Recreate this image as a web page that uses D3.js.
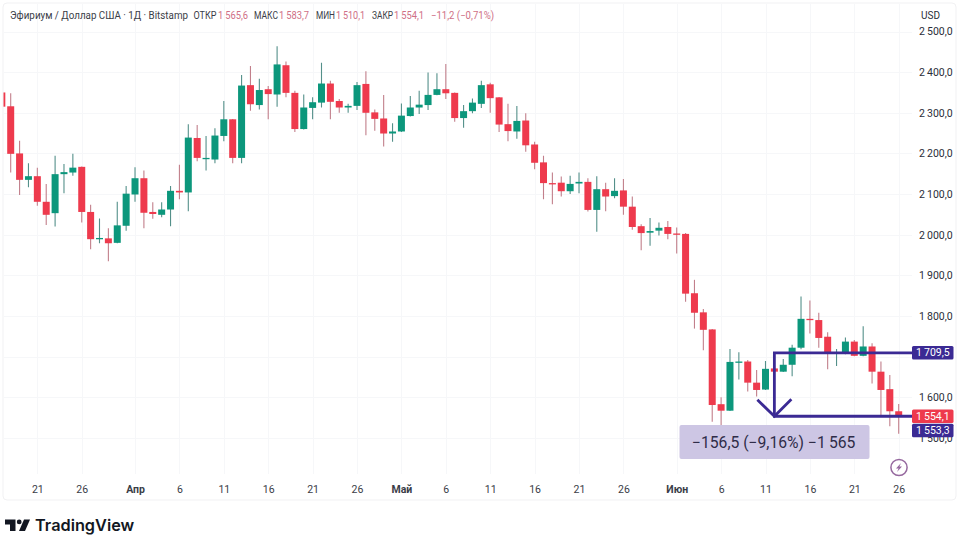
<!DOCTYPE html>
<html><head><meta charset="utf-8">
<script src="https://cdn.jsdelivr.net/npm/d3@7/dist/d3.min.js"></script>
<style>html,body{margin:0;padding:0;background:#fff}svg{display:block;font-family:Roboto,"Noto Sans",sans-serif}</style>
</head><body><svg id="c" width="960" height="540"></svg>
<script>
const firstDate = "2022-03-17";
const lastDate = "2022-06-26";
const open_ = [2350,2316,2200,2135,2144,2081,2053,2149,2153,2167,2056,1989,1991,1980,2022,2099,2139,2056,2049,2062,2108,2104,2238,2186,2185,2243,2284,2189,2368,2319,2358,2345,2417,2349,2260,2312,2325,2372,2329,2313,2317,2371,2301,2286,2249,2254,2292,2313,2319,2344,2358,2349,2287,2304,2322,2370,2338,2272,2254,2281,2222,2178,2127,2128,2107,2126,2130,2061,2112,2095,2109,2069,2021,2005,2010,2019,2003,2002,1856,1809,1767,1583,1567,1687,1688,1636,1619,1671,1663,1680,1722,1793,1790,1749,1707,1708,1737,1702,1725,1663,1620,1565.6];
const high = [2352,2348,2231,2176,2165,2125,2194,2174,2199,2168,2074,2040,2016,2081,2120,2166,2158,2080,2080,2120,2172,2272,2270,2243,2262,2329,2285,2393,2415,2384,2366,2464,2426,2354,2345,2338,2423,2379,2334,2322,2376,2402,2308,2344,2274,2323,2341,2354,2399,2397,2420,2350,2319,2335,2379,2374,2339,2322,2317,2299,2229,2194,2153,2143,2145,2153,2139,2144,2128,2139,2137,2094,2026,2041,2030,2034,2018,2004,1889,1817,1768,1600,1719,1711,1692,1667,1689,1708,1694,1729,1848,1838,1808,1760,1719,1747,1741,1775,1733,1688,1655,1583.7];
const low = [2315,2153,2098,2117,2071,2024,2020,2102,2145,2030,1964,1979,1935,1979,2010,2081,2016,2039,2043,2021,2087,2058,2181,2158,2176,2230,2176,2176,2305,2308,2284,2315,2338,2253,2259,2284,2313,2284,2300,2300,2307,2245,2256,2217,2229,2253,2291,2297,2307,2343,2334,2278,2263,2299,2312,2300,2253,2230,2236,2204,2161,2087,2075,2094,2100,2102,2057,2007,2058,2090,2049,2012,1962,1973,1998,1989,1954,1835,1769,1716,1540,1507,1566,1644,1614,1602,1618,1655,1662,1652,1718,1757,1722,1669,1677,1706,1701,1701,1634,1556,1529,1510.1];
const close_ = [2315,2199,2135,2144,2081,2049,2149,2154,2165,2056,1989,1992,1979,2023,2101,2139,2054,2051,2062,2108,2104,2239,2189,2189,2244,2284,2189,2367,2321,2356,2346,2419,2349,2260,2313,2326,2372,2327,2313,2317,2368,2300,2285,2249,2254,2293,2313,2320,2344,2358,2348,2287,2304,2325,2368,2336,2271,2255,2280,2220,2177,2127,2125,2107,2125,2130,2061,2112,2094,2108,2069,2019,2004,2009,2017,2002,2001,1855,1808,1766,1581,1567,1687,1688,1636,1618,1670,1663,1680,1722,1793,1790,1746,1707,1710,1737,1702,1725,1663,1618,1565.6,1554.1];
const priceTicks = [2500,2400,2300,2200,2100,2000,1900,1800,1600,1500];
const gridPrices = [2500,2400,2300,2200,2100,2000,1900,1800,1700,1600,1500];
const dayTicks = ["2022-03-21","2022-03-26","2022-04-01","2022-04-06","2022-04-11","2022-04-16","2022-04-21","2022-04-26","2022-05-01","2022-05-06","2022-05-11","2022-05-16","2022-05-21","2022-05-26","2022-06-01","2022-06-06","2022-06-11","2022-06-16","2022-06-21","2022-06-26"];
const monthNames = {3:"Апр",4:"Май",5:"Июн"};
const measureStart = "2022-06-12";
const measureFrom = 1709.5, measureTo = 1553.3, lastClose = 1554.1;
const headerParts = [["Эфириум / Доллар США · 1Д · Bitstamp","#3a3d47",10,178],["ОТКР","#3a3d47",193.5,23],["1\u2009565,6","#cf6f86",218,30],["МАКС","#3a3d47",254,24],["1\u2009583,7","#cf6f86",279,30],["МИН","#3a3d47",316,19],["1\u2009510,1","#cf6f86",336,29],["ЗАКР","#3a3d47",372,21],["1\u2009554,1","#cf6f86",394,30],["−11,2 (−0,71%)","#cf6f86",431,63]];

const parse = d3.utcParse("%Y-%m-%d");
const dates = d3.utcDay.range(parse(firstDate), d3.utcDay.offset(parse(lastDate),1));
const x = d3.scaleUtc().domain([parse(firstDate),parse(lastDate)]).range([1.82,898.7]);
const y = d3.scaleLinear().domain([1800,2500]).range([316,31.5]);
const svg = d3.select("#c");
const GREEN="#0c977c", RED="#ee3a4d", PURPLE="#3b2a94";

svg.append("rect").attr("x",3).attr("y",3).attr("width",953).attr("height",497).attr("rx",4).attr("fill","#fff").attr("stroke","#f1f1f3");
svg.append("defs").append("clipPath").attr("id","pane").append("rect").attr("x",3.5).attr("y",4).attr("width",909).attr("height",470);

const grid = svg.append("g").attr("stroke","#f6f7f9");
grid.selectAll("line.h").data(gridPrices).join("line").attr("x1",4).attr("x2",912).attr("y1",d=>Math.round(y(d))+.5).attr("y2",d=>Math.round(y(d))+.5);
grid.selectAll("line.v").data(dayTicks).join("line").attr("y1",4).attr("y2",474).attr("x1",d=>Math.round(x(parse(d)))+.5).attr("x2",d=>Math.round(x(parse(d)))+.5);

const rows = dates.map((d,i)=>({d,o:open_[i],h:high[i],l:low[i],c:close_[i]}));
const plot = svg.append("g").attr("clip-path","url(#pane)");
const cand = plot.selectAll("g").data(rows).join("g");
cand.append("line").attr("x1",d=>x(d.d)).attr("x2",d=>x(d.d)).attr("y1",d=>y(d.h)).attr("y2",d=>y(d.l))
  .attr("stroke",d=>d.c>=d.o?"#54908a":"#c27f8b").attr("stroke-width",1.1);
cand.append("rect").attr("x",d=>x(d.d)-3.5).attr("width",7)
  .attr("y",d=>Math.min(y(d.o),y(d.c))).attr("height",d=>Math.max(1.3,Math.abs(y(d.o)-y(d.c))))
  .attr("fill",d=>d.c>=d.o?GREEN:RED);

// price axis
const fmt = v => { const s=d3.format(".1f")(v).replace(".",","); return s[0]+"\u2009"+s.slice(1); };
const yAxis = svg.append("g").attr("transform","translate(915,0)")
  .call(d3.axisRight(y).tickValues(priceTicks).tickSize(0).tickPadding(4).tickFormat(fmt));
yAxis.select(".domain").remove();
yAxis.selectAll("text").attr("font-size",10.5).attr("font-family","Roboto,sans-serif").attr("fill","#2a2e39");
svg.append("text").attr("x",921).attr("y",19).attr("font-size",10).attr("fill","#2a2e39").text("USD");

// date axis
const xAxis = svg.append("g").attr("transform","translate(0,481)")
  .call(d3.axisBottom(x).tickValues(dayTicks.map(parse)).tickSize(0).tickPadding(5)
    .tickFormat(d=>d.getUTCDate()===1?monthNames[d.getUTCMonth()]:String(d.getUTCDate())));
xAxis.select(".domain").remove();
xAxis.selectAll("text").attr("font-size",10.5).attr("font-family","Roboto,sans-serif").attr("fill","#3a3d47")
  .attr("font-weight",d=>d.getUTCDate()===1?"700":"400");

// measure drawing
const xm = x(parse(measureStart)), xr = 912;
const draw = svg.append("g").attr("fill","none").attr("stroke",PURPLE).attr("stroke-width",2.8);
draw.append("path").attr("d",d3.line()([[xr,y(measureFrom)],[xm,y(measureFrom)],[xm,y(measureTo)],[xr,y(measureTo)]]));
draw.append("path").attr("d",d3.line()([[xm-17,y(measureTo)-16.5],[xm,y(measureTo)],[xm+17,y(measureTo)-17]]));

svg.append("rect").attr("x",679.5).attr("y",425).attr("width",190).attr("height",34).attr("rx",2).attr("fill","#cdc6e4");
svg.append("text").attr("x",692).attr("y",447.5).attr("font-size",15.7).attr("fill","#2f2c48").text("−156,5 (−9,16%) −1\u2009565");

// price labels
const labels=[[measureFrom,PURPLE,0],[lastClose,RED,0.3],[measureTo,PURPLE,14.2]];
labels.forEach(([v,col,dy])=>{
  const cy=y(v)+dy;
  svg.append("rect").attr("x",912).attr("y",cy-6.8).attr("width",41.5).attr("height",13.6).attr("rx",1.5).attr("fill",col);
  svg.append("text").attr("x",932.8).attr("y",cy+3.7).attr("text-anchor","middle").attr("font-size",10.5).attr("fill","#fff").text(fmt(v));
});

// lightning icon
const ic=svg.append("g").attr("transform","translate(899,467.5)");
ic.append("circle").attr("r",8.1).attr("fill","#fff").attr("stroke","#96699f").attr("stroke-width",1.5);
ic.append("path").attr("d","M2,-4.6 L-3,0.9 L-0.4,0.9 L-2,4.6 L3,-0.9 L0.4,-0.9 Z").attr("fill","#96699f");

// header
const hdr=svg.append("g").attr("font-size",10);
headerParts.forEach(([t,c,px,w])=>hdr.append("text").attr("x",px).attr("y",18.5).attr("fill",c).attr("textLength",w).attr("lengthAdjust","spacingAndGlyphs").text(t));

// logo
const logo=svg.append("g").attr("fill","#131722");
logo.append("path").attr("d","M5,519.5 H15.5 V531 H10 V524.5 H5 Z");
logo.append("circle").attr("cx",19.2).attr("cy",521.9).attr("r",2.4);
logo.append("path").attr("d","M24,519.5 H30 L25,531 H19 Z");
svg.append("text").attr("x",35).attr("y",531).attr("font-size",16.3).attr("font-weight",600).attr("font-family","Inter,Roboto,sans-serif").attr("fill","#131722").text("TradingView");
</script></body></html>
